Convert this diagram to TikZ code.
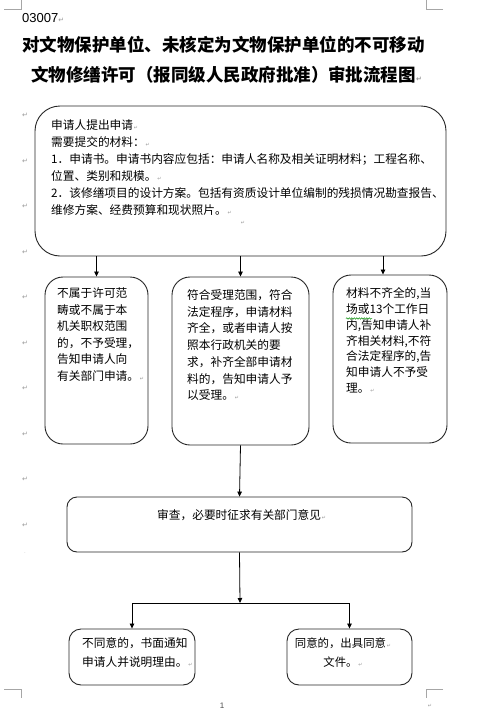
\documentclass[tikz,border=0pt]{standalone}
\usepackage{fontspec}
\usepackage{xcolor}
\usetikzlibrary{arrows.meta,decorations.pathmorphing}
\newfontfamily\cjk{Noto Sans CJK SC}
\newfontfamily\djv{DejaVu Sans}
\newfontfamily\lsans{Liberation Sans}
\newcommand\parmk{{\djv\fontsize{5}{5}\selectfont\color{gray!80}\,↵}}
\tikzset{
  box/.style={draw=black!85, line width=0.9pt, inner sep=0pt},
  txt/.style={inner sep=0pt, align=left, font=\cjk\fontsize{11.7}{16.7}\selectfont},
  arr/.style={draw=black, line width=0.8pt, -{Triangle[length=5pt,width=4.5pt]}},
  ln/.style={draw=black, line width=0.8pt},
  crop/.style={draw=gray!70, line width=0.8pt},
  mrk/.style={inner sep=0pt, font=\djv\fontsize{7}{7}\selectfont, text=gray!80}
}
\begin{document}
\begin{tikzpicture}[x=1pt,y=-1pt]
\useasboundingbox[fill=white] (0,0) rectangle (478,723);
% crop marks
\draw[crop] (4,9) -- (21,9) -- (21,0);
\draw[crop] (443,9) -- (426,9) -- (426,0);
\draw[crop] (4,689) -- (21,689) -- (21,698);
\draw[crop] (443,689) -- (426,689) -- (426,698);
% header
\node[anchor=west, inner sep=0pt, font=\lsans\fontsize{13}{13}\selectfont] (code) at (22,18) {03007{\djv\fontsize{7}{7}\selectfont\color{gray!80}↵}};
\node[inner sep=0pt, font=\cjk\bfseries\fontsize{17.5}{17.5}\selectfont] (title1) at (223.5,45) {对文物保护单位、未核定为文物保护单位的不可移动};
\node[inner sep=0pt, font=\cjk\bfseries\fontsize{17.5}{17.5}\selectfont] (title2) at (223.5,75) {文物修缮许可（报同级人民政府批准）审批流程图\rlap{\djv\fontsize{7}{7}\selectfont\color{gray!80}↵}};
% margin marks
\foreach \yy [count=\i] in {115,161,206,252,297,343,388,434,479,525}
  \node[mrk] (m\i) at (25,\yy) {↵};
\node[mrk, font=\djv\fontsize{4}{4}\selectfont] (mend) at (25,553) {.};
% boxes
\node[box, rounded corners=25pt, minimum width=411pt, minimum height=150pt] (top) at (240.5,181) {};
\node[box, rounded corners=18pt, minimum width=103pt, minimum height=167pt] (left) at (96.5,360.5) {};
\node[box, rounded corners=18pt, minimum width=137pt, minimum height=168pt] (mid) at (240.5,361) {};
\node[box, rounded corners=18pt, minimum width=114pt, minimum height=168pt] (right) at (390,359) {};
\node[box, rounded corners=10pt, minimum width=345pt, minimum height=55pt] (rev) at (239.5,524.5) {};
\node[box, rounded corners=12pt, minimum width=126pt, minimum height=56pt] (bl) at (132,657) {};
\node[box, rounded corners=12pt, minimum width=125pt, minimum height=56pt] (br) at (349.5,657) {};
% texts
\node[txt, anchor=north west, font=\cjk\fontsize{11.7}{17}\selectfont] (toptxt) at (51,119.5) {申请人提出申请\parmk\\
需要提交的材料：\parmk\\
1．申请书。申请书内容应包括：申请人名称及相关证明材料；工程名称、\\
位置、类别和规模。\parmk\\
2．该修缮项目的设计方案。包括有资质设计单位编制的残损情况勘查报告、\\
维修方案、经费预算和现状照片。\parmk};
\node[mrk, font=\djv\fontsize{5}{5}\selectfont] (topmk) at (243,223) {↵};
\node[txt, anchor=north west, font=\cjk\fontsize{11.7}{16.6}\selectfont] (lefttxt) at (57,287.5) {不属于许可范\\
畴或不属于本\\
机关职权范围\\
的，不予受理，\\
告知申请人向\\
有关部门申请。\parmk};
\node[txt, anchor=north west, font=\cjk\fontsize{11.7}{16.7}\selectfont] (midtxt) at (187,289.5) {符合受理范围，符合\\
法定程序，申请材料\\
齐全，或者申请人按\\
照本行政机关的要\\
求，补齐全部申请材\\
料的，告知申请人予\\
以受理。\parmk};
\node[txt, anchor=north west, font=\cjk\fontsize{11.7}{15.8}\selectfont] (righttxt) at (346,287.5) {材料不齐全的,当\\
场或13个工作日\\
内,告知申请人补\\
齐相关材料,不符\\
合法定程序的,告\\
知申请人不予受\\
理。\parmk};
\coordinate (wv1) at (346,318.5);
\coordinate (wv2) at (372,318.5);
\draw[green!55!black, line width=0.5pt, decorate, decoration={snake, amplitude=0.7pt, segment length=2.5pt}] (wv1) -- (wv2);
\node[txt, anchor=west] (revtxt) at (157,515) {审查，必要时征求有关部门意见\parmk};
\node[txt, anchor=north west, font=\cjk\fontsize{11.7}{19}\selectfont] (bltxt) at (82,637.5) {不同意的，书面通知\\
申请人并说明理由。\parmk};
\node[txt, anchor=north, align=center, font=\cjk\fontsize{11.4}{19}\selectfont] (brtxt) at (343,637.5) {同意的，出具同意\parmk\\
文件。\parmk};
% page number
\node[inner sep=0pt, font=\lsans\fontsize{8}{8}\selectfont, text=black!70] (pg) at (222,706) {1};
\node[mrk, font=\djv\fontsize{5}{5}\selectfont] (pgmk) at (430,706) {↵};
% connectors
\draw[arr] (left.north |- top.south) -- (left.north);
\draw[arr] (mid.north |- top.south) -- (mid.north);
\draw[arr] ([xshift=-7pt]right.north |- top.south) -- ([xshift=-7pt]right.north);
\draw[arr] (mid.south) -- (rev.north);
\coordinate (j) at (240,603);
\draw[arr] (rev.south) -- (j);
\draw[arr] (j) -| (bl.north);
\draw[arr] (j) -| (br.north);
\end{tikzpicture}
\end{document}
